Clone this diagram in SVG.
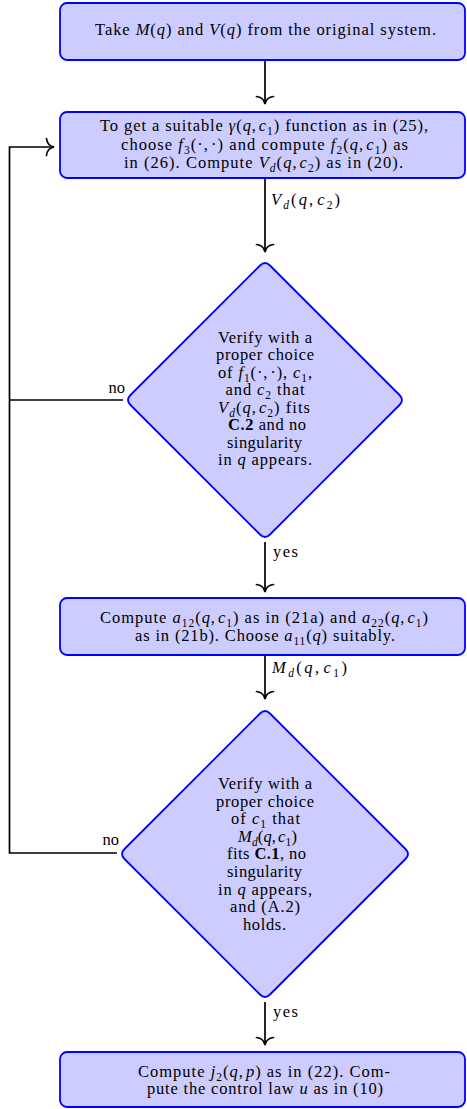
<svg xmlns="http://www.w3.org/2000/svg" width="467" height="1109" viewBox="0 0 467 1109">
<style>
  .box{fill:#ccccff;stroke:#0000ff;stroke-width:1.8}
  .t{font-family:"Liberation Serif","Times New Roman",serif;font-size:16.5px;fill:#000}
  .c{text-anchor:middle}
  .i{font-style:italic}
  .b{font-weight:bold}
  .s{font-size:11.5px}
  .ln{fill:none;stroke:#000;stroke-width:1.7}
</style>
<defs>
  <marker id="ah" markerUnits="userSpaceOnUse" markerWidth="20" markerHeight="20" refX="0" refY="0" orient="auto" overflow="visible">
    <path d="M-7.5,-8.5 C-7,-3 -3,-0.6 0,0 C-3,0.6 -7,3 -7.5,8.5" fill="none" stroke="#000" stroke-width="1.7" stroke-linecap="round"/>
  </marker>
</defs>

<g id="connectors">
  <path class="ln" d="M265,60 V104" marker-end="url(#ah)"/>
  <path class="ln" d="M265,178 V252" marker-end="url(#ah)"/>
  <path class="ln" d="M265,542 V592" marker-end="url(#ah)"/>
  <path class="ln" d="M265,655 V699" marker-end="url(#ah)"/>
  <path class="ln" d="M265,1002 V1045" marker-end="url(#ah)"/>
  <path class="ln" d="M123,400 H9.5"/>
  <path class="ln" d="M117,853 H9.5 V147 H54" marker-end="url(#ah)"/>
  <text class="t" x="271" y="205" textLength="69" lengthAdjust="spacing"><tspan class="i">V</tspan><tspan class="s i" dy="4">d</tspan><tspan dy="-4">(</tspan><tspan class="i">q</tspan>,<tspan class="i" dx="2">c</tspan><tspan class="s" dy="4">2</tspan><tspan dy="-4">)</tspan></text>
  <text class="t" x="273" y="557" textLength="25" lengthAdjust="spacing">yes</text>
  <text class="t" x="272" y="673" textLength="75" lengthAdjust="spacing"><tspan class="i">M</tspan><tspan class="s i" dy="4">d</tspan><tspan dy="-4">(</tspan><tspan class="i">q</tspan>,<tspan class="i" dx="2">c</tspan><tspan class="s" dy="4">1</tspan><tspan dy="-4">)</tspan></text>
  <text class="t" x="273" y="1017" textLength="25" lengthAdjust="spacing">yes</text>
  <text class="t" x="125" y="393" text-anchor="end">no</text>
  <text class="t" x="119" y="845" text-anchor="end">no</text>
</g>

<g id="n1">
  <rect class="box" x="60" y="3" width="405" height="57" rx="7"/>
  <text class="t c" x="265.5" y="35" textLength="341" lengthAdjust="spacing">Take <tspan class="i">M</tspan>(<tspan class="i">q</tspan>) and <tspan class="i">V</tspan>(<tspan class="i">q</tspan>) from the original system.</text>
</g>

<g id="n2">
  <rect class="box" x="60" y="112" width="405" height="66" rx="7"/>
  <text class="t c" x="264" y="131" textLength="328" lengthAdjust="spacing">To get a suitable <tspan class="i">γ</tspan>(<tspan class="i">q</tspan>,<tspan class="i" dx="2">c</tspan><tspan class="s" dy="4">1</tspan><tspan dy="-4">) function as in (25),</tspan></text>
  <text class="t c" x="264.5" y="149.5" textLength="287" lengthAdjust="spacing">choose <tspan class="i">f</tspan><tspan class="s" dy="4">3</tspan><tspan dy="-4">(·,</tspan><tspan dx="2">·) and compute </tspan><tspan class="i">f</tspan><tspan class="s" dy="4">2</tspan><tspan dy="-4">(</tspan><tspan class="i">q</tspan>,<tspan class="i" dx="2">c</tspan><tspan class="s" dy="4">1</tspan><tspan dy="-4">) as</tspan></text>
  <text class="t c" x="263.5" y="168" textLength="279" lengthAdjust="spacing">in  (26). Compute <tspan class="i">V</tspan><tspan class="s i" dy="4">d</tspan><tspan dy="-4">(</tspan><tspan class="i">q</tspan>,<tspan class="i" dx="2">c</tspan><tspan class="s" dy="4">2</tspan><tspan dy="-4">) as in (20).</tspan></text>
</g>

<g id="d1">
  <path class="box" d="M270,265.5 L399.5,395 Q404.5,400 399.5,405 L270,534.5 Q265,539.5 260,534.5 L130.5,405 Q125.5,400 130.5,395 L260,265.5 Q265,260.5 270,265.5 Z"/>
  <text class="t c" x="265" y="342.5" textLength="94" lengthAdjust="spacing">Verify with a</text>
  <text class="t c" x="265" y="360" textLength="98" lengthAdjust="spacing">proper choice</text>
  <text class="t c" x="265" y="377.5" textLength="94" lengthAdjust="spacing">of <tspan class="i">f</tspan><tspan class="s" dy="4">1</tspan><tspan dy="-4">(·,</tspan><tspan dx="2">·), </tspan><tspan class="i">c</tspan><tspan class="s" dy="4">1</tspan><tspan dy="-4">,</tspan></text>
  <text class="t c" x="265" y="395" textLength="79" lengthAdjust="spacing">and <tspan class="i">c</tspan><tspan class="s" dy="4">2</tspan><tspan dy="-4"> that</tspan></text>
  <text class="t c" x="264" y="412.5" textLength="92" lengthAdjust="spacing"><tspan class="i">V</tspan><tspan class="s i" dy="4">d</tspan><tspan dy="-4">(</tspan><tspan class="i">q</tspan>,<tspan class="i" dx="2">c</tspan><tspan class="s" dy="4">2</tspan><tspan dy="-4">) fits</tspan></text>
  <text class="t c" x="267" y="430" textLength="78" lengthAdjust="spacing"><tspan class="b">C.2</tspan> and no</text>
  <text class="t c" x="264.5" y="447.5" textLength="75" lengthAdjust="spacing">singularity</text>
  <text class="t c" x="265" y="465" textLength="94" lengthAdjust="spacing">in <tspan class="i">q</tspan> appears.</text>
</g>

<g id="n3">
  <rect class="box" x="60" y="598" width="405" height="57" rx="7"/>
  <text class="t c" x="264" y="622.5" textLength="328" lengthAdjust="spacing">Compute <tspan class="i">a</tspan><tspan class="s" dy="4">12</tspan><tspan dy="-4">(</tspan><tspan class="i">q</tspan>,<tspan class="i" dx="2">c</tspan><tspan class="s" dy="4">1</tspan><tspan dy="-4">) as in (21a) and </tspan><tspan class="i">a</tspan><tspan class="s" dy="4">22</tspan><tspan dy="-4">(</tspan><tspan class="i">q</tspan>,<tspan class="i" dx="2">c</tspan><tspan class="s" dy="4">1</tspan><tspan dy="-4">)</tspan></text>
  <text class="t c" x="265" y="640.5" textLength="260" lengthAdjust="spacing">as in (21b). Choose <tspan class="i">a</tspan><tspan class="s" dy="4">11</tspan><tspan dy="-4">(</tspan><tspan class="i">q</tspan>) suitably.</text>
</g>

<g id="d2">
  <path class="box" d="M270,713.5 L405.5,849 Q410.5,854 405.5,859 L270,994.5 Q265,999.5 260,994.5 L124.5,859 Q119.5,854 124.5,849 L260,713.5 Q265,708.5 270,713.5 Z"/>
  <text class="t c" x="265" y="789" textLength="94" lengthAdjust="spacing">Verify with a</text>
  <text class="t c" x="265" y="806.6" textLength="98" lengthAdjust="spacing">proper choice</text>
  <text class="t c" x="265.5" y="824.2" textLength="69" lengthAdjust="spacing">of <tspan class="i">c</tspan><tspan class="s" dy="4">1</tspan><tspan dy="-4"> that</tspan></text>
  <text class="t c" x="267.5" y="841.8" textLength="59" lengthAdjust="spacing"><tspan class="i">M</tspan><tspan class="s i" dy="4">d</tspan><tspan dy="-4">(</tspan><tspan class="i">q</tspan>,<tspan class="i" dx="2">c</tspan><tspan class="s" dy="4">1</tspan><tspan dy="-4">)</tspan></text>
  <text class="t c" x="266.5" y="859.4" textLength="79" lengthAdjust="spacing">fits <tspan class="b">C.1</tspan>, no</text>
  <text class="t c" x="264.5" y="877" textLength="75" lengthAdjust="spacing">singularity</text>
  <text class="t c" x="265" y="894.6" textLength="94" lengthAdjust="spacing">in <tspan class="i">q</tspan> appears,</text>
  <text class="t c" x="265" y="912.2" textLength="70" lengthAdjust="spacing">and (A.2)</text>
  <text class="t c" x="264.5" y="929.8" textLength="43" lengthAdjust="spacing">holds.</text>
</g>

<g id="n4">
  <rect class="box" x="60" y="1052" width="405" height="55" rx="7"/>
  <text class="t c" x="264" y="1077" textLength="252" lengthAdjust="spacing">Compute <tspan class="i">j</tspan><tspan class="s" dy="4">2</tspan><tspan dy="-4">(</tspan><tspan class="i">q</tspan>,<tspan class="i" dx="2">p</tspan>) as in (22). Com-</text>
  <text class="t c" x="265" y="1094" textLength="236" lengthAdjust="spacing">pute the control law <tspan class="i">u</tspan> as in (10)</text>
</g>
</svg>
